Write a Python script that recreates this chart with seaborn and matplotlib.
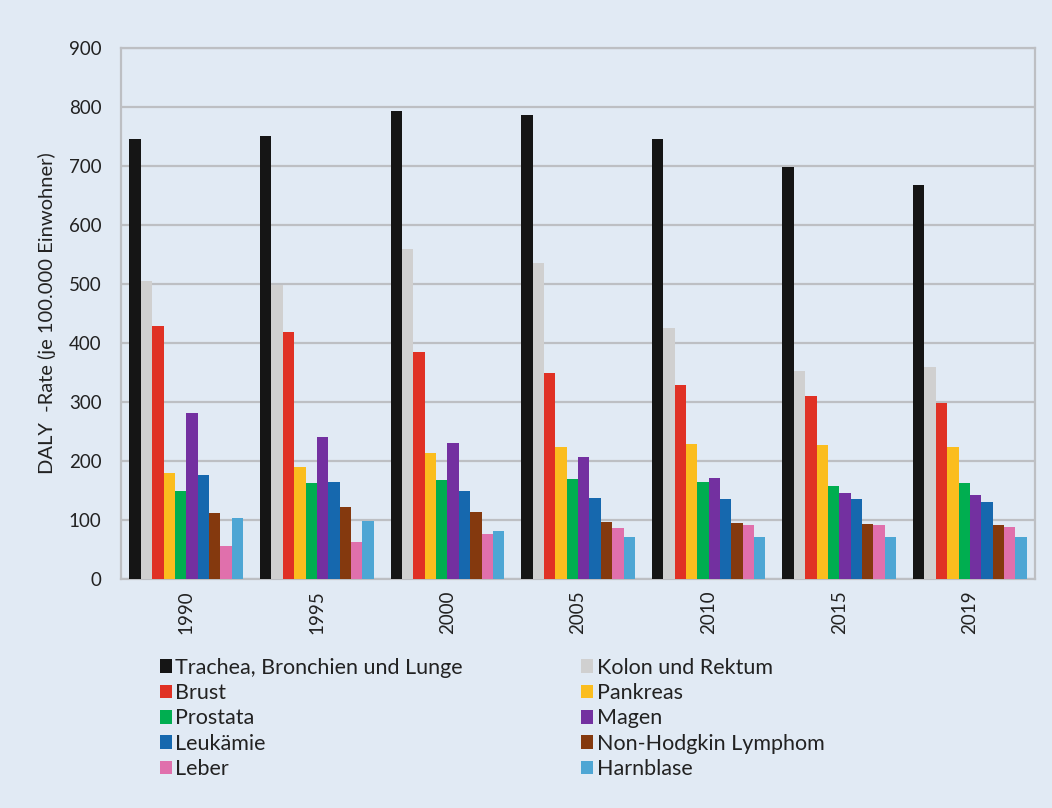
import matplotlib
matplotlib.use("Agg")
import matplotlib.pyplot as plt
from matplotlib.patches import Patch
import seaborn as sns
import pandas as pd

years = ["1990", "1995", "2000", "2005", "2010", "2015", "2019"]
categories = [
    "Trachea, Bronchien und Lunge", "Kolon und Rektum", "Brust", "Pankreas",
    "Prostata", "Magen", "Leukämie", "Non-Hodgkin Lymphom", "Leber", "Harnblase",
]
trachea = [746, 750, 793, 787, 746, 698, 668]
kolon = [505, 499, 559, 535, 425, 352, 360]
brust = [428, 419, 384, 349, 328, 311, 299]
pankreas = [179, 189, 214, 224, 228, 227, 224]
prostata = [150, 162, 167, 169, 164, 158, 162]
magen = [281, 240, 230, 206, 172, 146, 142]
leukaemie = [177, 164, 150, 137, 135, 135, 131]
nhl = [112, 122, 114, 96, 95, 94, 92]
leber = [56, 62, 76, 87, 91, 91, 89]
harnblase = [103, 98, 82, 72, 71, 72, 72]
colors = ["#151515", "#D0D0D0", "#E03124", "#FBBD1E", "#00AE50",
          "#7330A0", "#1668AE", "#84390E", "#E070AC", "#4EA6D4"]

series = [trachea, kolon, brust, pankreas, prostata, magen, leukaemie, nhl, leber, harnblase]
rows = []
for cat, vals in zip(categories, series):
    for y, v in zip(years, vals):
        rows.append({"Jahr": y, "Kategorie": cat, "Wert": v})
df = pd.DataFrame(rows)

bg = "#E1EAF4"
sns.set_theme(style="white")
plt.rcParams["font.family"] = ["Lato", "DejaVu Sans"]

fig = plt.figure(figsize=(10.52, 8.08), dpi=100, facecolor=bg)
ax = fig.add_axes([0.115, 0.2834, 0.869, 0.6572])
ax.set_facecolor(bg)

sns.barplot(data=df, x="Jahr", y="Wert", hue="Kategorie", order=years,
            hue_order=categories, palette=colors, width=0.87, saturation=1,
            ax=ax, legend=False, zorder=3, linewidth=0)

ax.set_ylim(0, 900)
ax.set_xlim(-0.5, len(years) - 0.5)
ax.set_yticks(range(0, 901, 100))
ax.yaxis.grid(True, color="#BDBFC3", linewidth=1.6, zorder=0)
ax.set_axisbelow(True)
for side in ["left", "bottom", "right", "top"]:
    ax.spines[side].set_color("#BDBFC3")
    ax.spines[side].set_linewidth(1.6)
ax.tick_params(axis="y", labelsize=13.5, colors="#222222", length=0, pad=14)
ax.tick_params(axis="x", labelsize=13.5, colors="#222222", length=0, pad=8,
               labelrotation=90)
ax.set_xlabel("")
ax.set_ylabel("DALY  -Rate (je 100.000 Einwohner)", fontsize=14.5, color="#222222",
              labelpad=9)

handles = [Patch(facecolor=c, edgecolor="none") for c in colors]
order = [0, 2, 4, 6, 8, 1, 3, 5, 7, 9]
leg = fig.legend([handles[i] for i in order], [categories[i] for i in order],
                 ncol=2, loc="upper left", bbox_to_anchor=(0.134, 0.21),
                 frameon=False, fontsize=15.5, handlelength=0.55, handleheight=0.6,
                 handletextpad=0.15, labelspacing=0.25, columnspacing=5.5,
                 labelcolor="#222222")

fig.savefig("out.png", dpi=100, facecolor=bg)
